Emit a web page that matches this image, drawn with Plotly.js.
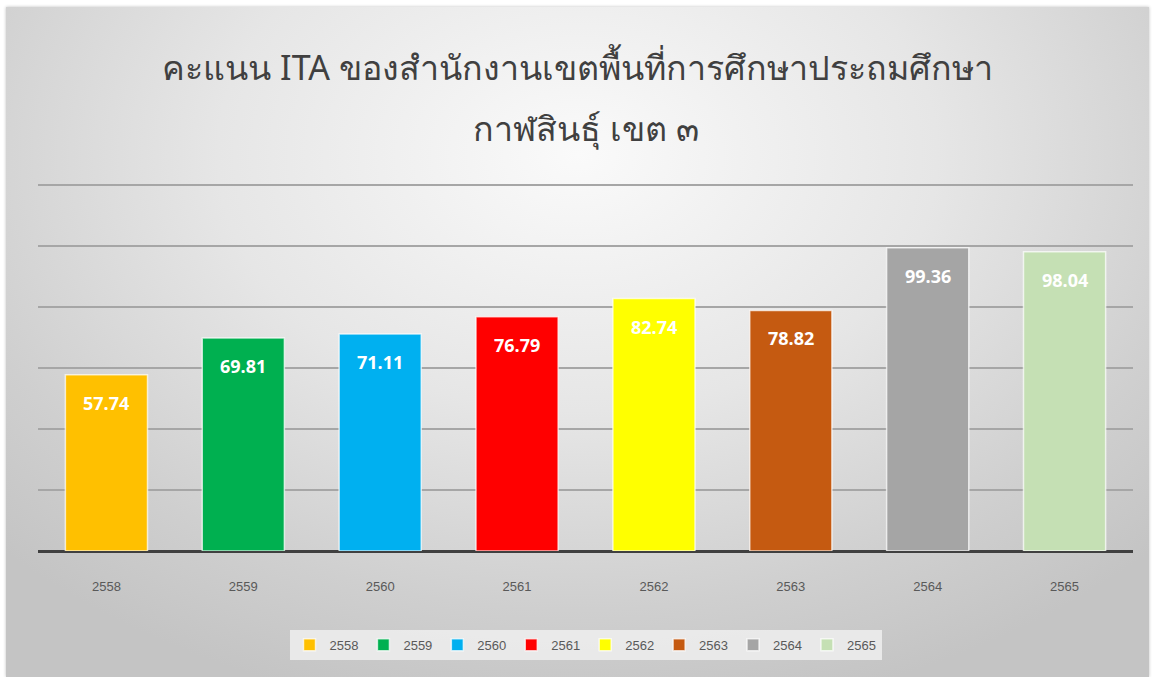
<!DOCTYPE html>
<html>
<head>
<meta charset="utf-8">
<script src="https://cdn.plot.ly/plotly-3.0.1.min.js"></script>
<style>
  html, body { margin: 0; padding: 0; background: #ffffff; width: 1155px; height: 677px; overflow: hidden; }
  #frame {
    position: absolute; left: 6px; top: 7px; width: 1143px; height: 670px;
    background: radial-gradient(ellipse 70% 85% at 50% 22%, #fafafa 0%, #e6e6e6 45%, #cfcfcf 80%, #c4c4c4 100%);
    box-shadow: 0 0 3px rgba(0,0,0,0.25);
  }
  #chart { position: absolute; left: 0; top: 0; width: 1155px; height: 677px; }
</style>
</head>
<body>
<div id="frame"></div>
<div id="chart"></div>
<script>
const years = ['2558', '2559', '2560', '2561', '2562', '2563', '2564', '2565'];
const scores = [57.74, 69.81, 71.11, 76.79, 82.74, 78.82, 99.36, 98.04];
const barColors = ['#FFC000', '#00B050', '#00B0F0', '#FF0000', '#FFFF00', '#C55A11', '#A5A5A5', '#C5E0B4'];
const yTicks = [0, 20, 40, 60, 80, 100, 120];
const titleLines = ['คะแนน ITA ของสำนักงานเขตพื้นที่การศึกษาประถมศึกษา', 'กาฬสินธุ์ เขต ๓'];

const traces = years.map((yr, i) => ({
    name: yr,
    x: [yr],
    y: [scores[i]],
    type: 'bar',
    width: 0.6,
    marker: {
        color: barColors[i],
        line: { color: 'rgba(255,255,255,0.7)', width: 1.5 }
    },
    hoverinfo: 'x+y'
}));

// value labels just below the top of each bar (x = category index)
const labels = years.map((yr, i) => ({
    x: i,
    y: scores[i],
    text: scores[i].toFixed(2),
    showarrow: false,
    yanchor: 'top',
    yshift: -14,
    font: { family: 'Open Sans, sans-serif', size: 18, color: '#ffffff', weight: 'bold' }
}));

// second title line, placed under the first
labels.push({
    xref: 'paper', yref: 'paper',
    x: 0.5, y: 1.1495,
    xanchor: 'center', yanchor: 'middle',
    text: titleLines[1],
    showarrow: false,
    font: { family: 'Noto Sans, Liberation Sans, sans-serif', size: 34, color: '#404040' }
});

const layout = {
    width: 1155,
    height: 677,
    paper_bgcolor: 'rgba(0,0,0,0)',
    plot_bgcolor: 'rgba(0,0,0,0)',
    margin: { t: 183, r: 22, b: 126, l: 38 },
    barmode: 'overlay',
    title: {
        text: titleLines[0],
        x: 0.5,
        xanchor: 'center',
        y: 0.8996,
        yanchor: 'middle',
        font: { family: 'Noto Sans, Liberation Sans, sans-serif', size: 34, color: '#404040' }
    },
    xaxis: {
        type: 'category',
        categoryorder: 'array',
        categoryarray: years,
        range: [-0.5, years.length - 0.5],
        showgrid: false,
        showline: false,
        zeroline: false,
        ticks: '',
        ticklabelstandoff: 26,
        tickfont: { family: 'Liberation Sans, Arial, sans-serif', size: 13, color: '#595959' }
    },
    yaxis: {
        range: [0, 120.6],
        tickvals: yTicks,
        showticklabels: false,
        showgrid: true,
        gridcolor: '#a6a6a6',
        gridwidth: 2,
        zeroline: true,
        zerolinecolor: '#404040',
        zerolinewidth: 3,
        showline: false
    },
    showlegend: true,
    legend: {
        orientation: 'h',
        x: 0.5,
        xanchor: 'center',
        y: -0.255,
        yanchor: 'middle',
        bgcolor: 'rgba(238,238,238,0.85)',
        borderwidth: 0,
        itemwidth: 30,
        font: { family: 'Liberation Sans, Arial, sans-serif', size: 13, color: '#595959' }
    },
    annotations: labels
};

Plotly.newPlot('chart', traces, layout, { displayModeBar: false, staticPlot: true });
</script>
</body>
</html>
